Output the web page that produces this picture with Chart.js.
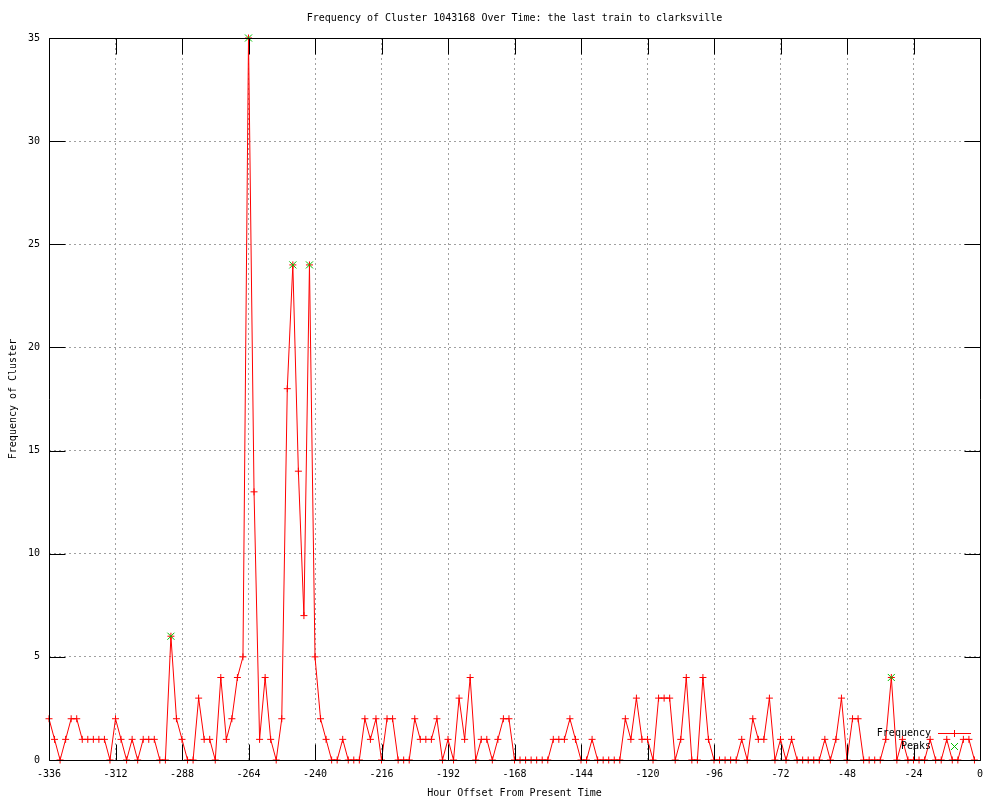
<!DOCTYPE html>
<html><head><meta charset="utf-8">
<script src="https://cdn.jsdelivr.net/npm/chart.js@4/dist/chart.umd.min.js"></script>
<style>html,body{margin:0;padding:0;background:#fff}</style>
</head><body>
<canvas id="c" width="1000" height="800"></canvas>
<script>
const chartTitle = "Frequency of Cluster 1043168 Over Time: the last train to clarksville";
const xAxisTitle = "Hour Offset From Present Time";
const yAxisTitle = "Frequency of Cluster";
const seriesLabels = ["Frequency", "Peaks"];

const hours = [
-336,-334,-332,-330,-328,-326,-324,-322,-320,-318,
-316,-314,-312,-310,-308,-306,-304,-302,-300,-298,
-296,-294,-292,-290,-288,-286,-284,-282,-280,-278,
-276,-274,-272,-270,-268,-266,-264,-262,-260,-258,
-256,-254,-252,-250,-248,-246,-244,-242,-240,-238,
-236,-234,-232,-230,-228,-226,-224,-222,-220,-218,
-216,-214,-212,-210,-208,-206,-204,-202,-200,-198,
-196,-194,-192,-190,-188,-186,-184,-182,-180,-178,
-176,-174,-172,-170,-168,-166,-164,-162,-160,-158,
-156,-154,-152,-150,-148,-146,-144,-142,-140,-138,
-136,-134,-132,-130,-128,-126,-124,-122,-120,-118,
-116,-114,-112,-110,-108,-106,-104,-102,-100,-98,
-96,-94,-92,-90,-88,-86,-84,-82,-80,-78,
-76,-74,-72,-70,-68,-66,-64,-62,-60,-58,
-56,-54,-52,-50,-48,-46,-44,-42,-40,-38,
-36,-34,-32,-30,-28,-26,-24,-22,-20,-18,
-16,-14,-12,-10,-8,-6,-4,-2
];
const frequency = [
2,1,0,1,2,2,1,1,1,1,
1,0,2,1,0,1,0,1,1,1,
0,0,6,2,1,0,0,3,1,1,
0,4,1,2,4,5,35,13,1,4,
1,0,2,18,24,14,7,24,5,2,
1,0,0,1,0,0,0,2,1,2,
0,2,2,0,0,0,2,1,1,1,
2,0,1,0,3,1,4,0,1,1,
0,1,2,2,0,0,0,0,0,0,
0,1,1,1,2,1,0,0,1,0,
0,0,0,0,2,1,3,1,1,0,
3,3,3,0,1,4,0,0,4,1,
0,0,0,0,0,1,0,2,1,1,
3,0,1,0,1,0,0,0,0,0,
1,0,1,3,0,2,2,0,0,0,
0,1,4,0,1,0,0,0,0,1,
0,0,1,0,0,1,1,0
];
const peakHours = [-292, -264, -248, -242, -32];
const peakValues = [6, 35, 24, 24, 4];

const xTickValues = [-336,-312,-288,-264,-240,-216,-192,-168,-144,-120,-96,-72,-48,-24,0];
const yTickValues = [0,5,10,15,20,25,30,35];

const RED = 'rgb(255,0,0)';
const GREEN = 'rgb(0,192,0)';
const FONT = "'DejaVu Sans Mono', 'Liberation Mono', monospace";
Chart.defaults.font.family = FONT;
Chart.defaults.font.size = 10;
Chart.defaults.color = '#000';

const gnuplotDecor = {
  id: 'gnuplotDecor',
  afterDraw(chart) {
    const {ctx, chartArea: a, scales: {x, y}} = chart;
    ctx.save();
    ctx.setLineDash([]);
    ctx.globalAlpha = 1;
    ctx.globalCompositeOperation = 'source-over';
    // title
    ctx.fillStyle = '#000';
    ctx.font = '10px ' + FONT;
    ctx.textAlign = 'center';
    ctx.textBaseline = 'middle';
    ctx.fillText(chartTitle, (a.left + a.right) / 2, 18);
    // frame + inward mirrored ticks
    ctx.strokeStyle = '#000';
    ctx.lineWidth = 1;
    const L = Math.round(a.left) + 0.5, R = Math.round(a.right) + 0.5;
    const T = Math.round(a.top) + 0.5, B = Math.round(a.bottom) + 0.5;
    ctx.beginPath();
    ctx.moveTo(L, T); ctx.lineTo(R, T); ctx.lineTo(R, B); ctx.lineTo(L, B); ctx.closePath();
    const tl = 16;
    xTickValues.forEach(v => {
      const px = Math.round(x.getPixelForValue(v)) + 0.5;
      ctx.moveTo(px, B); ctx.lineTo(px, B - tl);
      ctx.moveTo(px, T); ctx.lineTo(px, T + tl);
    });
    yTickValues.forEach(v => {
      const py = Math.round(y.getPixelForValue(v)) + 0.5;
      ctx.moveTo(L, py); ctx.lineTo(L + tl, py);
      ctx.moveTo(R, py); ctx.lineTo(R - tl, py);
    });
    ctx.stroke();
    // legend (inside, bottom right)
    const right = Math.round(a.right), bottom = Math.round(a.bottom);
    const textRight = right - 49;
    const sx1 = right - 42, sx2 = right - 9, sxm = right - 26;
    ctx.textAlign = 'right';
    let ry = bottom - 27;
    ctx.fillStyle = '#000';
    ctx.fillText(seriesLabels[0], textRight, ry);
    ctx.strokeStyle = RED;
    ctx.lineWidth = 1;
    ctx.beginPath();
    ctx.moveTo(sx1, ry + 0.5); ctx.lineTo(sx2, ry + 0.5);
    ctx.moveTo(sxm + 0.5, ry - 3); ctx.lineTo(sxm + 0.5, ry + 4);
    ctx.stroke();
    ry = bottom - 14;
    ctx.fillStyle = '#000';
    ctx.fillText(seriesLabels[1], textRight, ry);
    ctx.strokeStyle = GREEN;
    ctx.beginPath();
    ctx.moveTo(sxm - 3, ry - 3); ctx.lineTo(sxm + 4, ry + 4);
    ctx.moveTo(sxm + 4, ry - 3); ctx.lineTo(sxm - 3, ry + 4);
    ctx.stroke();
    ctx.restore();
  }
};

new Chart(document.getElementById('c'), {
  type: 'line',
  data: {
    datasets: [
      {
        label: seriesLabels[1],
        order: 0,
        data: peakHours.map((h, i) => ({x: h, y: peakValues[i]})),
        showLine: false,
        borderColor: GREEN,
        backgroundColor: GREEN,
        pointBorderColor: GREEN,
        pointStyle: 'crossRot',
        pointRadius: 5,
        pointBorderWidth: 1,
        clip: false
      },
      {
        label: seriesLabels[0],
        order: 1,
        data: hours.map((h, i) => ({x: h, y: frequency[i]})),
        borderColor: RED,
        backgroundColor: RED,
        pointBorderColor: RED,
        borderWidth: 1,
        tension: 0,
        pointStyle: 'cross',
        pointRadius: 3.5,
        pointBorderWidth: 1,
        clip: false
      }
    ]
  },
  options: {
    responsive: false,
    animation: false,
    events: [],
    layout: {padding: {top: 38, right: 20, bottom: 0, left: 0}},
    plugins: {legend: {display: false}, tooltip: {enabled: false}, title: {display: false}},
    scales: {
      x: {
        type: 'linear',
        min: -336, max: 0,
        afterBuildTicks: s => { s.ticks = xTickValues.map(v => ({value: v})); },
        afterFit: s => { s.height = 40; },
        ticks: {padding: 8, maxRotation: 0, autoSkip: false, font: {size: 10}, color: '#000'},
        grid: {color: '#a0a0a0', lineWidth: 1, drawTicks: false},
        border: {display: false, dash: [2, 3]},
        title: {display: true, text: xAxisTitle, font: {size: 10}, padding: {top: 0, bottom: 1}, color: '#000'}
      },
      y: {
        type: 'linear',
        min: 0, max: 35,
        afterBuildTicks: s => { s.ticks = yTickValues.map(v => ({value: v})); },
        afterFit: s => { s.width = 49; },
        ticks: {padding: 9, font: {size: 10}, color: '#000'},
        grid: {color: '#a0a0a0', lineWidth: 1, drawTicks: false},
        border: {display: false, dash: [2, 3]},
        title: {display: true, text: yAxisTitle, font: {size: 10}, padding: {top: 7, bottom: 0}, color: '#000'}
      }
    }
  },
  plugins: [gnuplotDecor]
});
</script>
</body></html>
